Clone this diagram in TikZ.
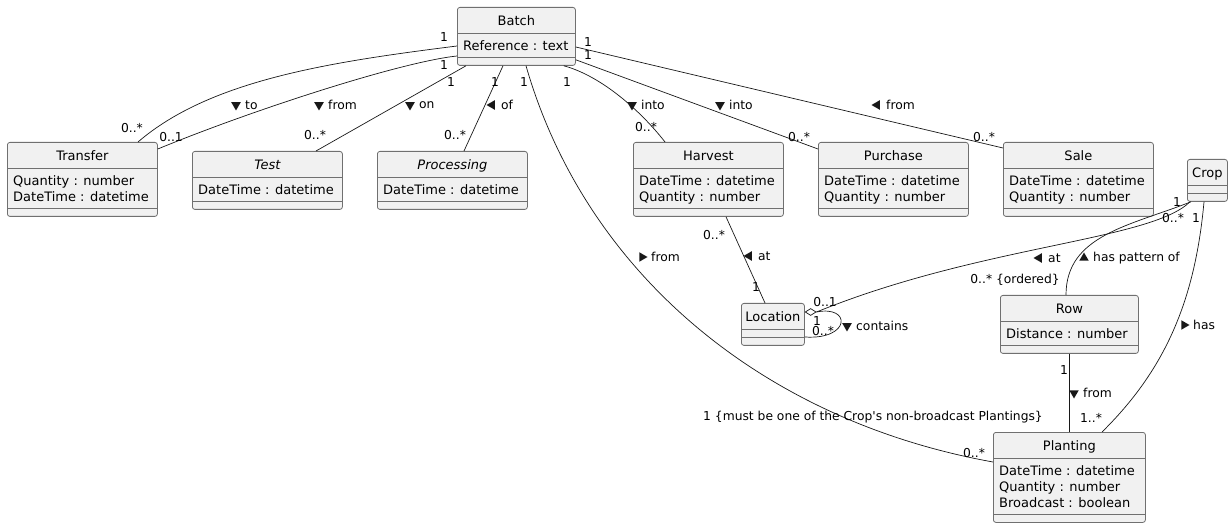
\documentclass[tikz,border=0pt]{standalone}
\usepackage{fontspec}
\setmainfont{DejaVu Sans}
\usetikzlibrary{shapes.geometric}

\definecolor{umlfill}{HTML}{F1F1F1}
\definecolor{umlline}{HTML}{181818}
\definecolor{umlborder}{HTML}{707070}

% class box: name, x, y, width, attribute lines, title, attributes
\newcommand{\umlclass}[7]{%
  \node[classbox, minimum width=#4, minimum height={42+16*#5}] (#1) at (#2,#3) {};
  \draw[sepline] ([yshift=-26pt]#1.north west) -- ([yshift=-26pt]#1.north east);
  \draw[sepline] ([yshift={-34pt-16pt*#5}]#1.north west) -- ([yshift={-34pt-16pt*#5}]#1.north east);
  \node[classname] (#1-name) at ([yshift=-18.5pt]#1.north) {#6};
  \node[classattr] (#1-attr) at ([xshift=6pt,yshift=-33pt]#1.north west) {#7};}

% direction mark and text of an association: name, x, y, rotation, text
\newcommand{\assoclabel}[5]{%
  \node[dirmark, rotate=#4] (#1-mark) at (#2,#3) {};
  \node[roletext] (#1) at ([xshift=9pt]#1-mark.center) {#5};}

\begin{document}
\begin{tikzpicture}[x=1pt,y=-1pt,
	classbox/.style={draw=umlborder, line width=0.8pt, fill=umlfill, rounded corners=2.5pt, anchor=north west, inner sep=0pt},
	sepline/.style={draw=umlborder, line width=0.8pt},
	classname/.style={font=\fontsize{13}{16}\selectfont, anchor=base, inner sep=0pt},
	classattr/.style={font=\fontsize{13}{16}\selectfont, align=left, anchor=north west, inner sep=0pt},
	assoc/.style={draw=umlline, line width=0.7pt},
	mult/.style={font=\fontsize{12.3}{14}\selectfont, inner sep=0pt},
	roletext/.style={font=\fontsize{12.3}{14}\selectfont, inner sep=0pt, anchor=west},
	dirmark/.style={regular polygon, regular polygon sides=3, fill=umlline, inner sep=0pt, minimum size=11pt},
	aggmark/.style={diamond, draw=umlline, fill=white, line width=0.7pt, inner sep=0pt, minimum width=11pt, minimum height=7pt, anchor=west}]
	
	\useasboundingbox (0,0) rectangle (1232,529);
	
	% classes
	\umlclass{batch}{457}{7}{118}{1}{Batch}{Reference : text}
	\umlclass{transfer}{7}{142}{150}{2}{Transfer}{Quantity : number\\DateTime : datetime}
	\umlclass{test}{192}{151}{150}{1}{\itshape Test}{DateTime : datetime}
	\umlclass{processing}{377}{151}{150}{1}{\itshape Processing}{DateTime : datetime}
	\umlclass{harvest}{633}{142}{150}{2}{Harvest}{DateTime : datetime\\Quantity : number}
	\umlclass{purchase}{818}{142}{150}{2}{Purchase}{DateTime : datetime\\Quantity : number}
	\umlclass{sale}{1003}{142}{150}{2}{Sale}{DateTime : datetime\\Quantity : number}
	\umlclass{crop}{1187}{159}{40}{0}{Crop}{}
	\umlclass{location}{741}{303}{63}{0}{Location}{}
	\umlclass{row}{1000}{295}{138}{1}{Row}{Distance : number}
	\umlclass{planting}{993}{432}{152}{3}{Planting}{DateTime : datetime\\Quantity : number\\Broadcast : boolean}
	
	% associations of Batch
	\draw[assoc] ([yshift=-39pt]batch.north west) .. controls +(-127,16) and +(72,-62) .. ([xshift=131pt]transfer.north west);
	\draw[assoc] ([yshift=-49pt]batch.north west) .. controls +(-57,6) and +(92,-38) .. ([yshift=-7pt]transfer.north east);
	\draw[assoc] ([xshift=9pt]batch.south west) -- ([xshift=124pt]test.north west);
	\draw[assoc] ([xshift=46pt]batch.south west) -- ([xshift=87pt]processing.north west);
	\draw[assoc] ([xshift=69pt]batch.south west) .. controls +(59,205) and +(-233,-42) .. ([yshift=-30pt]planting.north west);
	\draw[assoc] ([xshift=-12pt]batch.south east) .. controls +(37,10) and +(-25,-32) .. ([xshift=32pt]harvest.north west);
	\draw[assoc] ([yshift=6pt]batch.south east) -- ([yshift=-7pt]purchase.north west);
	\draw[assoc] ([yshift=-40pt]batch.north east) -- ([yshift=-6pt]sale.north west);
	
	% the other associations
	\draw[assoc] ([xshift=93pt]harvest.south west) -- ([xshift=24pt]location.north west);
	\node[aggmark] (agg) at ([yshift=-9pt]location.north east) {};
	\draw[assoc] ([xshift=3pt]crop.south west) .. controls +(-40,39) and +(165,-67) .. (agg.east);
	\draw[assoc] (agg.east) .. controls +(35,-7) and +(46,3) .. ([yshift=-34pt]location.north east);
	\draw[assoc] ([xshift=4pt]crop.south west) .. controls +(-61,24) and +(0,-60) .. ([xshift=66pt]row.north west);
	\draw[assoc] ([xshift=17pt]crop.south west) .. controls +(-9,99) and +(63,-62) .. ([xshift=109pt]planting.north west);
	\draw[assoc] ([xshift=69pt]row.south west) -- ([xshift=76pt]planting.north west);
	
	% multiplicities
	\node[mult] (m-to-b) at (444,37) {1};
	\node[mult] (m-to-t) at (132,128) {0..*};
	\node[mult] (m-from-b) at (444,65) {1};
	\node[mult] (m-from-t) at (171,137) {0..1};
	\node[mult] (m-on-b) at (451,82) {1};
	\node[mult] (m-on-t) at (315,135) {0..*};
	\node[mult] (m-of-b) at (495,82) {1};
	\node[mult] (m-of-p) at (455,135) {0..*};
	\node[mult] (m-pl-b) at (524,82) {1};
	\node[mult] (m-pl-p) at (974,453) {0..*};
	\node[mult] (m-pl-note) at (873,417) {1 \{must be one of the Crop\textquotesingle s non-broadcast Plantings\}};
	\node[mult] (m-ha-b) at (567,82) {1};
	\node[mult] (m-ha-h) at (646,127) {0..*};
	\node[mult] (m-sa-b) at (588,42) {1};
	\node[mult] (m-pu-b) at (588,55) {1};
	\node[mult] (m-pu-p) at (799,137) {0..*};
	\node[mult] (m-sa-s) at (984,137) {0..*};
	\node[mult] (m-at-h) at (714,235) {0..*};
	\node[mult] (m-at-l) at (756,287) {1};
	\node[mult] (m-cl-l) at (825,302) {0..1};
	\node[mult] (m-co-a) at (817,321) {1};
	\node[mult] (m-co-b) at (823,331) {0..*};
	\node[mult] (m-cl-c) at (1177,202) {1};
	\node[mult] (m-cr-c) at (1173,218) {0..*};
	\node[mult] (m-cp-c) at (1196,218) {1};
	\node[mult] (m-cr-r) at (1015,280) {0..* \{ordered\}};
	\node[mult] (m-rp-r) at (1064,370) {1};
	\node[mult] (m-rp-p) at (1091,418) {1..*};
	
	% association names
	\assoclabel{to}{236}{105}{180}{to}
	\assoclabel{from-t}{319}{105}{180}{from}
	\assoclabel{on}{410}{105}{180}{on}
	\assoclabel{of}{492}{105}{90}{of}
	\assoclabel{into-h}{632}{105}{180}{into}
	\assoclabel{into-p}{720}{105}{180}{into}
	\assoclabel{from-s}{877}{105}{90}{from}
	\assoclabel{from-p}{642}{257}{270}{from}
	\assoclabel{at-h}{749}{256}{90}{at}
	\assoclabel{at-c}{1039}{258}{90}{at}
	\assoclabel{pattern}{1084}{258}{0}{has pattern of}
	\assoclabel{has}{1184}{325}{270}{has}
	\assoclabel{from-r}{1074}{393}{180}{from}
	\assoclabel{contains}{847}{326}{180}{contains}
\end{tikzpicture}
\end{document}
